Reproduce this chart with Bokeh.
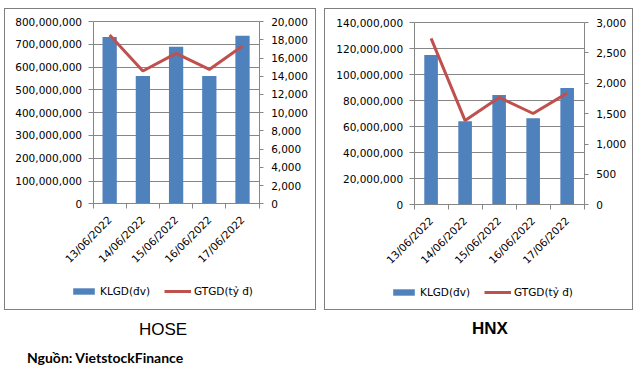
import math
from bokeh.plotting import figure
from bokeh.models import (Range1d, LinearAxis, FixedTicker, NumeralTickFormatter,
                          Legend, LegendItem, Div, SingleIntervalTicker, Grid)
from bokeh.layouts import column, row
from bokeh.embed import file_html
from bokeh.resources import INLINE

dates = ["13/06/2022", "14/06/2022", "15/06/2022", "16/06/2022", "17/06/2022"]
hose_klgd = [732_500_000, 560_700_000, 689_900_000, 560_700_000, 738_300_000]
hose_gtgd = [18530, 14570, 16510, 14750, 17320]
hnx_klgd = [115_100_000, 64_200_000, 84_300_000, 66_500_000, 89_700_000]
hnx_gtgd = [2741, 1387, 1767, 1503, 1839]
legend_labels = ["KLGD(đv)", "GTGD(tỷ đ)"]
titles = ["HOSE", "HNX"]
source_note = "Nguồn: VietstockFinance"

BLUE = "#4F81BD"
RED = "#C0504D"
GRAY = "#868686"
FONT = "DejaVu Sans"
FS = "10.5px"


def build(klgd, gtgd, lmax, lstep, rmax, rstep, W, H, fl, fr, ft, fb, bar_w, leg_x, leg_y):
    # fl, fr, ft, fb: pixel positions (inside the canvas) of the plotting area edges
    cw, ch = W - 2, H - 2  # canvas size inside the 1px border
    n = len(dates)
    xs = list(range(1, n + 1))
    x0, x1 = 0.5, n + 0.5
    upx = (x1 - x0) / (fr - fl)
    ypx = 1.0 / (fb - ft)
    x_range = Range1d(x0 - fl * upx, x1 + (cw - fr) * upx)
    y_range = Range1d(-(ch - fb) * ypx * lmax, lmax * (1 + ft * ypx))
    p = figure(width=W, height=H, x_range=x_range, y_range=y_range,
               output_backend="svg", toolbar_location=None,
               min_border_left=0, min_border_right=0, min_border_top=0, min_border_bottom=0)
    p.outline_line_color = None
    p.background_fill_color = "white"
    p.border_fill_color = "white"
    p.styles = {"border": "1px solid #7f7f7f"}
    p.extra_y_ranges = {"right": Range1d(-(ch - fb) * ypx * rmax, rmax * (1 + ft * ypx))}

    p.xgrid.visible = False

    xa = p.xaxis[0]
    xa.fixed_location = 0
    xa.bounds = (x0, x1)
    xa.ticker = FixedTicker(ticks=xs, minor_ticks=[x - 0.5 for x in xs] + [xs[-1] + 0.5])
    xa.major_label_overrides = {x: d for x, d in zip(xs, dates)}
    xa.major_label_orientation = math.pi / 4
    xa.major_tick_line_color = None
    xa.minor_tick_line_color = GRAY
    xa.minor_tick_in = 0
    xa.minor_tick_out = 5
    xa.axis_line_color = GRAY
    xa.major_label_standoff = 8
    xa.major_label_text_font = FONT
    xa.major_label_text_font_size = FS
    xa.major_label_text_color = "black"

    ya = p.yaxis[0]
    ya.fixed_location = x0
    ya.bounds = (0, lmax)
    ya.ticker = SingleIntervalTicker(interval=lstep, num_minor_ticks=0)
    ya.formatter = NumeralTickFormatter(format="0,0")
    ya.axis_line_color = GRAY
    ya.major_tick_line_color = GRAY
    ya.major_tick_in = 0
    ya.major_tick_out = 5
    ya.minor_tick_line_color = None
    ya.major_label_standoff = 6
    ya.major_label_text_font = FONT
    ya.major_label_text_font_size = FS
    ya.major_label_text_color = "black"

    if "cross_bounds" in Grid.properties():
        g = p.ygrid[0]
        g.grid_line_color = GRAY
        g.grid_line_width = 1
        g.cross_bounds = (x0, x1)
    else:
        p.ygrid.visible = False
        gy = list(range(0, lmax + 1, lstep))
        p.segment(x0=[x0] * len(gy), x1=[x1] * len(gy), y0=gy, y1=gy,
                  line_color=GRAY, line_width=1, level="underlay")

    bars = p.vbar(x=xs, top=klgd, width=bar_w, fill_color=BLUE, line_color=None)
    line = p.line(x=xs, y=gtgd, y_range_name="right", line_color=RED, line_width=3)

    ra = LinearAxis(y_range_name="right",
                    ticker=SingleIntervalTicker(interval=rstep, num_minor_ticks=0),
                    formatter=NumeralTickFormatter(format="0,0"))
    ra.fixed_location = x1
    ra.bounds = (0, rmax)
    ra.axis_line_color = GRAY
    ra.major_tick_line_color = GRAY
    ra.major_tick_in = 0
    ra.major_tick_out = 4
    ra.minor_tick_line_color = None
    ra.major_label_standoff = 8
    ra.major_label_text_font = FONT
    ra.major_label_text_font_size = FS
    ra.major_label_text_color = "black"
    p.add_layout(ra, "right")

    leg = Legend(items=[LegendItem(label=legend_labels[0], renderers=[bars]),
                        LegendItem(label=legend_labels[1], renderers=[line])],
                 location=(leg_x, leg_y), orientation="horizontal")
    leg.border_line_color = None
    leg.background_fill_alpha = 0
    leg.padding = 0
    leg.margin = 0
    leg.spacing = 14
    leg.glyph_width = 27
    leg.glyph_height = 8
    leg.label_standoff = 3
    leg.label_height = 14
    leg.label_text_font = FONT
    leg.label_text_font_size = FS
    leg.label_text_color = "black"
    p.add_layout(leg, "center")
    return p


p1 = build(hose_klgd, hose_gtgd, 800_000_000, 100_000_000, 20000, 2000,
           312, 302, 87, 252, 12, 193, 0.43, 65, 13)
p2 = build(hnx_klgd, hnx_gtgd, 140_000_000, 20_000_000, 3000, 500,
           309, 302, 88, 257, 13, 194, 0.4, 65, 12)

html = (
    '<div style="position:relative;width:630px;height:55px;">'
    '<span style="position:absolute;left:130px;top:5px;line-height:20px;'
    'font-family:\'Liberation Sans\';font-size:17px;color:#000;">' + titles[0] + '</span>'
    '<span style="position:absolute;left:463px;top:4px;line-height:20px;'
    'font-family:\'Liberation Sans\';font-size:17px;font-weight:bold;color:#000;">' + titles[1] + '</span>'
    '<span style="position:absolute;left:18px;top:35px;line-height:16px;'
    'font-family:Lato;font-size:14px;font-weight:bold;color:#000;white-space:nowrap;">'
    + source_note + '</span>'
    '</div>'
)
notes = Div(text=html, width=630, height=55)

layout = column(row(p1, p2, spacing=8), notes, spacing=0)
layout.styles = {"margin-left": "4px", "margin-top": "8px"}

open("out.html", "w").write(file_html(layout, INLINE))
